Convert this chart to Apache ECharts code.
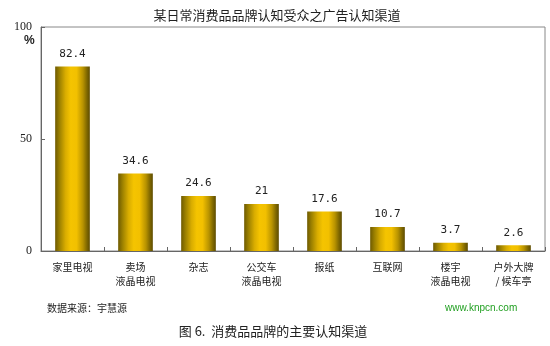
<!DOCTYPE html>
<html>
<head>
<meta charset="utf-8">
<script src="https://cdn.jsdelivr.net/npm/echarts@6/dist/echarts.min.js"></script>
<style>
  html, body { margin: 0; padding: 0; background: #fff; }
  #chart { width: 550px; height: 346px; }
</style>
</head>
<body>
<div id="chart"></div>
<script>
// Awareness channels for a daily consumer-goods brand (%)
const categories = ['家里电视', '卖场\n液晶电视', '杂志', '公交车\n液晶电视', '报纸', '互联网', '楼宇\n液晶电视', '户外大牌\n/ 候车亭'];
const shares = [82.4, 34.6, 24.6, 21, 17.6, 10.7, 3.7, 2.6];
const yTicks = [0, 50, 100];

const cjk = '"Noto Sans CJK SC", "Noto Sans", sans-serif';

// Cylinder-like shading across each bar
const barFill = new echarts.graphic.LinearGradient(0, 0, 1, 0, [
  { offset: 0.00, color: '#6e5a00' },
  { offset: 0.12, color: '#9a7f00' },
  { offset: 0.30, color: '#d9ad00' },
  { offset: 0.45, color: '#f5c400' },
  { offset: 0.62, color: '#f2c000' },
  { offset: 0.80, color: '#b89300' },
  { offset: 0.92, color: '#7d6600' },
  { offset: 1.00, color: '#5e4c00' }
]);

const chart = echarts.init(document.getElementById('chart'), null, { renderer: 'canvas' });
chart.setOption({
  animation: false,
  backgroundColor: '#fff',
  title: [
    {
      text: '某日常消费品品牌认知受众之广告认知渠道',
      left: 272, top: 4, textAlign: 'center',
      textStyle: { fontFamily: cjk, fontSize: 13, fontWeight: 'normal', color: '#222' }
    },
    {
      text: '数据来源：宇慧源',
      left: 42, top: 298,
      textStyle: { fontFamily: cjk, fontSize: 10, fontWeight: 'normal', color: '#222' }
    },
    {
      text: 'www.knpcn.com',
      left: 440, top: 298,
      textStyle: { fontFamily: 'Arial, "Liberation Sans", sans-serif', fontSize: 10, fontWeight: 'normal', color: '#22a022' }
    },
    {
      text: '图 6.  消费品品牌的主要认知渠道',
      left: 268, top: 320, textAlign: 'center',
      textStyle: { fontFamily: cjk, fontSize: 13, fontWeight: 'normal', color: '#222' }
    },
    {
      text: '%',
      left: 19, top: 30,
      textStyle: { fontFamily: 'Arial, sans-serif', fontSize: 12, fontWeight: 'bold', color: '#222' }
    }
  ],
  grid: { left: 41, right: 5, top: 27, bottom: 95, show: true, borderColor: '#888', borderWidth: 1 },
  xAxis: {
    type: 'category',
    data: categories,
    axisLine: { lineStyle: { color: '#666', width: 1 } },
    axisTick: { show: true, inside: true, length: 4, lineStyle: { color: '#666' } },
    axisLabel: {
      margin: 9, interval: 0, lineHeight: 14,
      fontFamily: cjk, fontSize: 10, color: '#222'
    }
  },
  yAxis: {
    type: 'value',
    min: yTicks[0], max: yTicks[yTicks.length - 1], interval: 50,
    splitLine: { show: false },
    axisLine: { show: true, lineStyle: { color: '#666' } },
    axisTick: { show: true, inside: true, length: 4, lineStyle: { color: '#666' } },
    axisLabel: {
      margin: 9,
      fontFamily: '"Liberation Serif", serif', fontSize: 12, color: '#222'
    }
  },
  series: [{
    type: 'bar',
    data: shares,
    barWidth: '55%',
    itemStyle: { color: barFill },
    label: {
      show: true, position: 'top', distance: 7,
      fontFamily: '"DejaVu Sans Mono", monospace', fontSize: 11, color: '#222'
    }
  }]
});
</script>
</body>
</html>
